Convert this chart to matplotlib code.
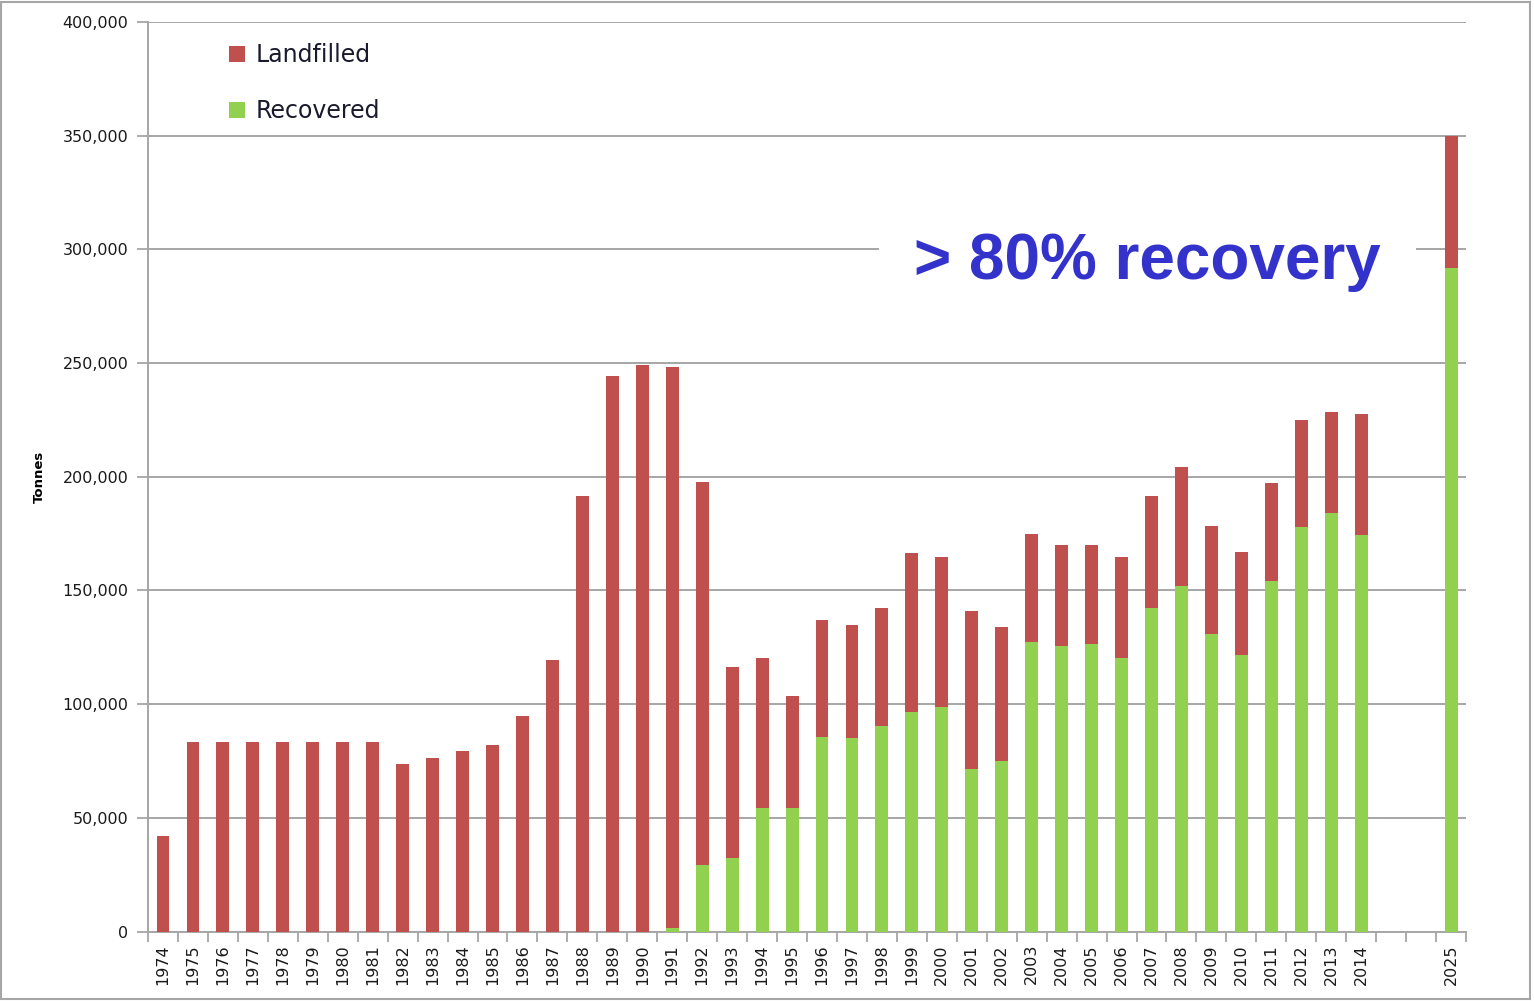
import numpy as np
import matplotlib.pyplot as plt
from matplotlib.patches import Rectangle
from matplotlib.ticker import FuncFormatter

# years on the category axis; two empty slots sit between 2014 and 2025
years = [str(y) for y in range(1974, 2015)] + ["", "", "2025"]

recovered = [0, 0, 0, 0, 0, 0, 0, 0, 0, 0, 0, 0, 0, 0, 0, 0, 0,
             1500, 29300, 32400, 54500, 54500, 85700, 85000, 90400, 96600,
             98800, 71700, 75100, 127200, 125700, 126500, 120300, 142400,
             152100, 130800, 121600, 154200, 177800, 184000, 174300,
             0, 0, 292000]
landfilled = [42000, 83500, 83500, 83500, 83500, 83500, 83500, 83500,
              73800, 76400, 79200, 82200, 94600, 119600, 191600, 244300,
              249000, 246700, 168600, 83800, 65800, 49200, 51300, 49900,
              52000, 69900, 65800, 69300, 59000, 47700, 44300, 43500,
              44300, 49300, 52000, 47700, 45100, 42900, 47100, 44300,
              53400, 0, 0, 58000]

red = "#c0504d"
green = "#92d050"
grid_col = "#a6a6a6"

fig = plt.figure(figsize=(15.34, 10.01), dpi=100)
ax = fig.add_axes([0.0965, 0.0694, 0.8592, 0.9086])

x = np.arange(len(years))
ax.bar(x, recovered, width=0.43, color=green, label="Recovered", zorder=3)
ax.bar(x, landfilled, width=0.43, bottom=recovered, color=red,
       label="Landfilled", zorder=3)

ax.set_xlim(-0.5, len(years) - 0.5)
ax.set_ylim(0, 400000)
ax.set_yticks(np.arange(0, 400001, 50000))
ax.yaxis.set_major_formatter(FuncFormatter(lambda v, p: f"{int(v):,}"))
ax.yaxis.grid(True, color=grid_col, linewidth=1.4, zorder=0)
ax.set_axisbelow(True)

ax.set_xticks(x)
ax.set_xticklabels(years, rotation=90, fontsize=11.5, color="#1a1a1a")
ax.set_xticks(np.arange(-0.5, len(years)), minor=True)
ax.tick_params(axis="x", which="major", length=0, pad=9)
ax.tick_params(axis="x", which="minor", length=7, width=1.3, color=grid_col)
ax.tick_params(axis="y", length=8, width=1.3, color=grid_col,
               labelsize=11.5, labelcolor="#1a1a1a", pad=6)

for side in ["top", "right"]:
    ax.spines[side].set_visible(False)
for side in ["left", "bottom"]:
    ax.spines[side].set_color(grid_col)
    ax.spines[side].set_linewidth(1.4)

ax.set_ylabel("Tonnes", fontsize=9.5, fontweight="bold", labelpad=12)

handles, labels = ax.get_legend_handles_labels()
leg = ax.legend(handles[::-1], labels[::-1], loc="upper left",
                bbox_to_anchor=(0.045, 1.0), frameon=False, fontsize=17,
                handlelength=0.68, handleheight=0.68, handletextpad=0.45,
                labelspacing=1.35)
for t in leg.get_texts():
    t.set_color("#1a1a2e")

ax.text(25.07, 287000, "> 80% recovery", fontsize=46, fontweight="bold",
        family="Liberation Sans", color="#3333cc", ha="left", va="baseline",
        zorder=4,
        bbox=dict(facecolor="white", edgecolor="none", boxstyle="square,pad=0.55"))

fig.patches.append(Rectangle((0.0007, 0.002), 0.9966, 0.9965,
                             transform=fig.transFigure, fill=False,
                             edgecolor=grid_col, linewidth=1.5))

fig.savefig("out.png", dpi=100)
